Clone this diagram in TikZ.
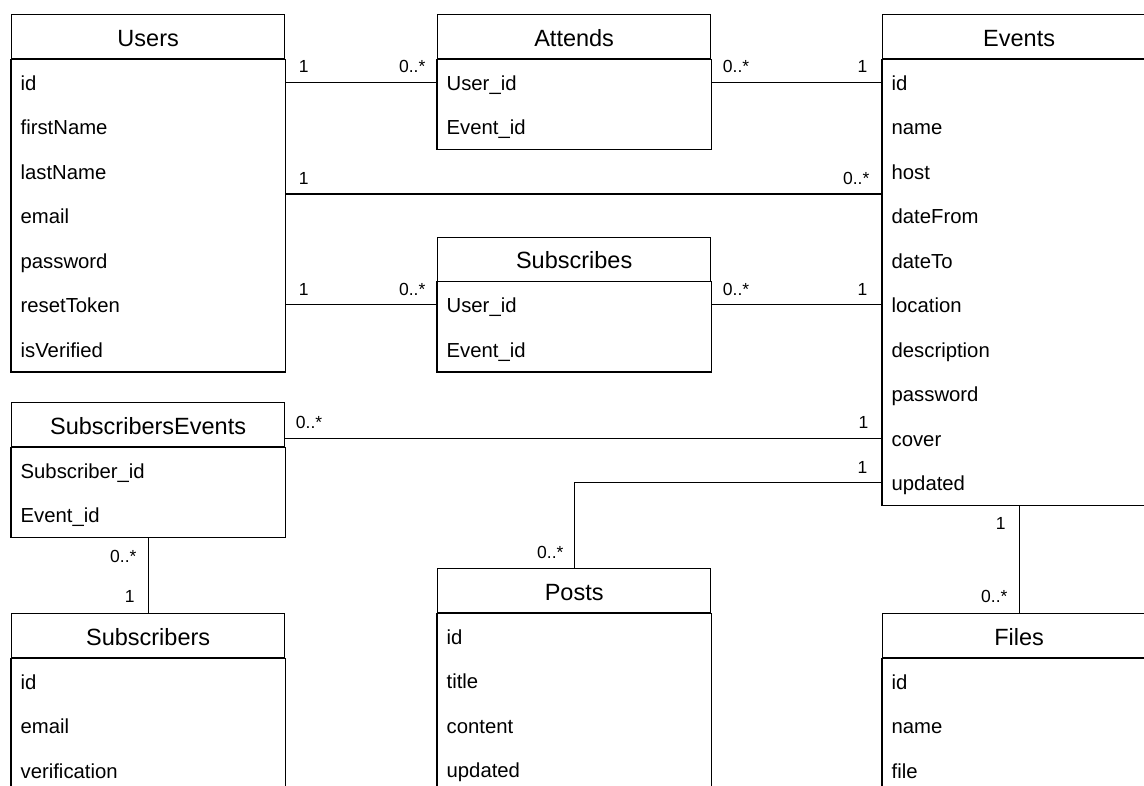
\documentclass[tikz,border=0pt]{standalone}
\usepackage{fontspec}
\setmainfont{Liberation Sans}
\usetikzlibrary{fit}

% An entity: #1 name, #2 top-left corner, #3 title, #4 number of rows, #5 rows
\newcommand{\erentity}[5]{%
  \node[erhead, anchor=north west] (#1) at (#2) {#3};
  \foreach \r [count=\i] in {#5} {
    \node[errow, anchor=north] (#1-\i) at ([yshift={-(\i-1)*44.5pt}]#1.south) {\r};
  }
  \node[erbody, fit=(#1-1)(#1-#4)] (#1-box) {};
}

\begin{document}
\begin{tikzpicture}[
  x=1pt, y=-1pt,
  line width=1.3pt,
  erhead/.style={draw, minimum width=273pt, minimum height=44pt, inner sep=0pt,
    text height=21pt, text depth=1.6pt, font=\fontsize{23.5}{28}\selectfont},
  errow/.style={minimum height=44.5pt, text width=255pt, inner xsep=9pt, inner ysep=0pt,
    align=left, text height=18pt, text depth=2pt, font=\fontsize{20.3}{24}\selectfont},
  erbody/.style={draw, inner sep=0pt},
  lbl/.style={inner sep=0pt, font=\fontsize{17.5}{21}\selectfont},
  link/.style={draw},
]
\useasboundingbox (0,0) rectangle (1144,785);
\fill[white] (0,0) rectangle (1144,785);
\clip (0,0) rectangle (1144,785);

% entities
\erentity{users}{11,14}{Users}{7}{id, firstName, lastName, email, password, resetToken, isVerified}
\erentity{attends}{437,14}{Attends}{2}{User\_id, Event\_id}
\erentity{events}{882,14}{Events}{10}{id, name, host, dateFrom, dateTo, location, description, password, cover, updated}
\erentity{subscribes}{437,236.5}{Subscribes}{2}{User\_id, Event\_id}
\erentity{se}{11,402}{SubscribersEvents}{2}{Subscriber\_id, Event\_id}
\erentity{subscribers}{11,613}{Subscribers}{3}{id, email, verification}
\erentity{posts}{437,568}{Posts}{4}{id, title, content, updated}
\erentity{files}{882,613}{Files}{3}{id, name, file}

% Users -- Attends -- Events
\draw[link] (users-1.east) -- (attends-1.west);
\node[lbl, anchor=base west, xshift=13pt, yshift=9.5pt] (l-ua1) at (users-1.east) {1};
\node[lbl, anchor=base east, xshift=-11pt, yshift=9.5pt] (l-ua2) at (attends-1.west) {0..*};
\draw[link] (attends-1.east) -- (events-1.west);
\node[lbl, anchor=base west, xshift=11pt, yshift=9.5pt] (l-ae1) at (attends-1.east) {0..*};
\node[lbl, anchor=base east, xshift=-14pt, yshift=9.5pt] (l-ae2) at (events-1.west) {1};

% Users -- Events (host)
\draw[link] (users-3.south east) -- (events-3.south west);
\node[lbl, anchor=base west, xshift=13pt, yshift=9.5pt] (l-ue1) at (users-3.south east) {1};
\node[lbl, anchor=base east, xshift=-12pt, yshift=9.5pt] (l-ue2) at (events-3.south west) {0..*};

% Users -- Subscribes -- Events
\draw[link] (users-6.east) -- (subscribes-1.west);
\node[lbl, anchor=base west, xshift=13pt, yshift=9.5pt] (l-us1) at (users-6.east) {1};
\node[lbl, anchor=base east, xshift=-11pt, yshift=9.5pt] (l-us2) at (subscribes-1.west) {0..*};
\draw[link] (subscribes-1.east) -- (events-6.west);
\node[lbl, anchor=base west, xshift=11pt, yshift=9.5pt] (l-se1) at (subscribes-1.east) {0..*};
\node[lbl, anchor=base east, xshift=-14pt, yshift=9.5pt] (l-se2) at (events-6.west) {1};

% SubscribersEvents -- Events (cover)
\coordinate (se-end) at (events-9.west -| se.east);
\draw[link] (se-end) -- (events-9.west);
\node[lbl, anchor=base west, xshift=10pt, yshift=9.5pt] (l-sev1) at (se-end) {0..*};
\node[lbl, anchor=base east, xshift=-13pt, yshift=9.5pt] (l-sev2) at (events-9.west) {1};

% Events (updated) -- Posts
\draw[link] (events-10.west) -| (posts.north);
\node[lbl, anchor=base east, xshift=-14pt, yshift=9.5pt] (l-ep1) at (events-10.west) {1};
\node[lbl, anchor=base east, xshift=-10pt, yshift=10pt] (l-ep2) at (posts.north) {0..*};

% Events -- Files
\draw[link] (events-box.south) -- (files.north);
\node[lbl, anchor=base east, xshift=-13pt, yshift=-23.5pt] (l-ef1) at (events-box.south) {1};
\node[lbl, anchor=base east, xshift=-11pt, yshift=11pt] (l-ef2) at (files.north) {0..*};

% SubscribersEvents -- Subscribers
\draw[link] (se-box.south) -- (subscribers.north);
\node[lbl, anchor=base east, xshift=-11pt, yshift=-24pt] (l-ss1) at (se-box.south) {0..*};
\node[lbl, anchor=base east, xshift=-13pt, yshift=10.5pt] (l-ss2) at (subscribers.north) {1};
\end{tikzpicture}
\end{document}
